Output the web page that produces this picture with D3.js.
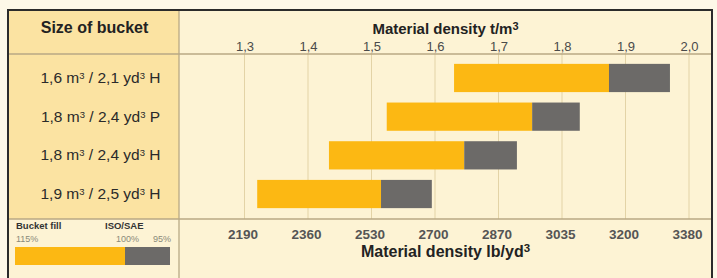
<!DOCTYPE html>
<html>
<head>
<meta charset="utf-8">
<script src="https://cdn.jsdelivr.net/npm/d3@7"></script>
<style>
  body { margin: 0; background: #fdf8e8; }
  svg { display: block; font-family: "Liberation Sans", Arial, sans-serif; }
</style>
</head>
<body>
<div id="chart"></div>
<script>
// bucket sizes (rows)
var sizeM3 = ["1,6", "1,8", "1,8", "1,9"];
var sizeYd3 = ["2,1", "2,4", "2,4", "2,5"];
var bucketType = ["H", "P", "H", "H"];

// material density t/m3 at 115%, 100% and 95% bucket fill
var fill115 = [1.630, 1.524, 1.433, 1.320];
var fill100 = [1.874, 1.753, 1.646, 1.515];
var fill95 = [1.970, 1.828, 1.729, 1.595];

// axis ticks
var tTicks = [1.3, 1.4, 1.5, 1.6, 1.7, 1.8, 1.9, 2.0];
var lbTicks = ["2190", "2360", "2530", "2700", "2870", "3035", "3200", "3380"];

var W = 717, H = 278;
var yellow = "#fcb813", grey = "#6c6a68";

var svg = d3.select("#chart").append("svg")
    .attr("width", W).attr("height", H);

// table background
var fl = 8, ft = 10, fr = 712, fb = 284;   // frame (bottom edge runs off the picture)
var colX = 179, headY = 54, footY = 219;

svg.append("rect").attr("x", fl).attr("y", ft).attr("width", fr - fl).attr("height", fb - ft)
    .attr("fill", "#fdf3d4");
svg.append("rect").attr("x", fl).attr("y", ft).attr("width", colX - fl).attr("height", footY - ft)
    .attr("fill", "#fbe3a2");

var x = d3.scaleLinear().domain([1.3, 2.0]).range([244.5, 689]);
var y = d3.scaleBand().domain(d3.range(sizeM3.length)).range([60, 212]).paddingInner(0.27).paddingOuter(0.1);

// grid lines
svg.append("g").selectAll("line").data(tTicks).join("line")
    .attr("x1", d => x(d)).attr("x2", d => x(d))
    .attr("y1", 53).attr("y2", footY)
    .attr("stroke", "#e3d3a6").attr("stroke-width", 1);

// horizontal rules
svg.append("line").attr("x1", fl).attr("x2", fr).attr("y1", headY).attr("y2", headY)
    .attr("stroke", "#b9a985").attr("stroke-width", 1.3);
svg.append("line").attr("x1", fl).attr("x2", fr).attr("y1", footY).attr("y2", footY)
    .attr("stroke", "#b9a985").attr("stroke-width", 1.3);
svg.append("line").attr("x1", colX).attr("x2", colX).attr("y1", ft).attr("y2", fb)
    .attr("stroke", "#b9a985").attr("stroke-width", 1.3);

// top axis
var topAxis = d3.axisTop(x).tickValues(tTicks).tickSize(0).tickPadding(0)
    .tickFormat(d => d3.format(".1f")(d).replace(".", ","));
var gt = svg.append("g").attr("transform", "translate(0,51)").call(topAxis);
gt.select(".domain").remove();
gt.selectAll("text").attr("font-size", 13).attr("fill", "#4a4a4a").attr("font-family", null);

// bottom axis
var botAxis = d3.axisBottom(x).tickValues(tTicks).tickSize(0).tickPadding(0)
    .tickFormat((d, i) => lbTicks[i]);
var gb = svg.append("g").attr("transform", "translate(-2,229)").call(botAxis);
gb.select(".domain").remove();
gb.selectAll("text").attr("font-size", 13.5).attr("font-weight", "bold").attr("fill", "#555")
    .attr("font-family", null);

// axis titles
var t1 = svg.append("text").attr("x", (colX + fr) / 2).attr("y", 34)
    .attr("text-anchor", "middle").attr("font-size", 15).attr("font-weight", "bold").attr("fill", "#222")
    .text("Material density t/m");
t1.append("tspan").attr("dy", -4).attr("font-size", 11).text("3");

var t2 = svg.append("text").attr("x", (colX + fr) / 2).attr("y", 257)
    .attr("text-anchor", "middle").attr("font-size", 16).attr("font-weight", "bold").attr("fill", "#222")
    .text("Material density lb/yd");
t2.append("tspan").attr("dy", -5).attr("font-size", 11.5).text("3");

// header cell
svg.append("text").attr("x", (fl + colX) / 2 + 1).attr("y", 33)
    .attr("text-anchor", "middle").attr("font-size", 16).attr("font-weight", "bold").attr("fill", "#222")
    .text("Size of bucket");

// row labels
var labels = svg.append("g").selectAll("text").data(sizeM3).join("text")
    .attr("x", (fl + colX) / 2 + 7)
    .attr("y", (d, i) => y(i) + y.bandwidth() / 2 + 5)
    .attr("text-anchor", "middle").attr("font-size", 15.5).attr("fill", "#2a2a2a");
labels.each(function (d, i) {
    var t = d3.select(this);
    t.append("tspan").text(d + " m");
    t.append("tspan").attr("font-size", 9.5).attr("dy", -4).text("3");
    t.append("tspan").attr("dy", 4).text(" / " + sizeYd3[i] + " yd");
    t.append("tspan").attr("font-size", 9.5).attr("dy", -4).text("3");
    t.append("tspan").attr("dy", 4).text(" " + bucketType[i]);
});

// bars
var bars = svg.append("g");
bars.selectAll(".full").data(fill115).join("rect").attr("class", "full")
    .attr("x", d => x(d)).attr("y", (d, i) => y(i))
    .attr("width", (d, i) => x(fill100[i]) - x(d)).attr("height", y.bandwidth())
    .attr("fill", yellow);
bars.selectAll(".iso").data(fill100).join("rect").attr("class", "iso")
    .attr("x", d => x(d)).attr("y", (d, i) => y(i))
    .attr("width", (d, i) => x(fill95[i]) - x(d)).attr("height", y.bandwidth())
    .attr("fill", grey);

// legend
var lg = svg.append("g");
var lx = d3.scaleLinear().domain([115, 95]).range([15, 170]);
lg.append("text").attr("x", 16).attr("y", 229).attr("font-size", 9.5).attr("font-weight", "bold")
    .attr("fill", "#333").text("Bucket fill");
lg.append("text").attr("x", 105).attr("y", 229).attr("font-size", 9.5).attr("font-weight", "bold")
    .attr("fill", "#333").text("ISO/SAE");
lg.append("text").attr("x", 16).attr("y", 242).attr("font-size", 9).attr("fill", "#8a8a7a").text("115%");
lg.append("text").attr("x", 139).attr("y", 242).attr("font-size", 9).attr("fill", "#8a8a7a")
    .attr("text-anchor", "end").text("100%");
lg.append("text").attr("x", 171).attr("y", 242).attr("font-size", 9).attr("fill", "#8a8a7a")
    .attr("text-anchor", "end").text("95%");
lg.append("rect").attr("x", lx(115)).attr("y", 247).attr("width", 110).attr("height", 18).attr("fill", yellow);
lg.append("rect").attr("x", 125).attr("y", 247).attr("width", lx(95) - 125).attr("height", 18).attr("fill", grey);

// frame
svg.append("rect").attr("x", fl).attr("y", ft).attr("width", fr - fl).attr("height", fb - ft)
    .attr("fill", "none").attr("stroke", "#2b2b2b").attr("stroke-width", 2);
</script>
</body>
</html>
